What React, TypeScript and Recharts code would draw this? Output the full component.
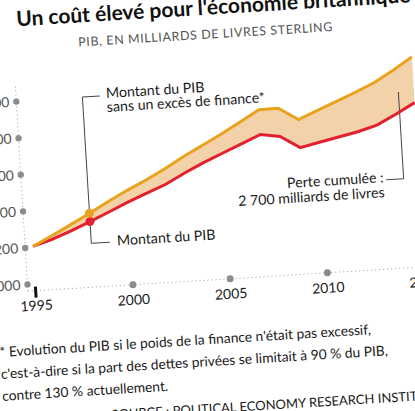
import {
  ComposedChart,
  Area,
  Line,
  XAxis,
  YAxis,
  ReferenceLine,
} from "recharts";

// PIB britannique, milliards de livres
const years = [
  1995, 1996, 1997, 1998, 1999, 2000, 2001, 2002, 2003, 2004, 2005, 2006,
  2007, 2008, 2009, 2010, 2011, 2012, 2013, 2014, 2015,
];
const gdpActual = [
  1206, 1238, 1278, 1322, 1368, 1415, 1458, 1500, 1555, 1605, 1650, 1695,
  1740, 1722, 1655, 1678, 1700, 1722, 1752, 1805, 1862,
];
const gdpNoExcessFinance = [
  1206, 1258, 1312, 1368, 1425, 1480, 1530, 1585, 1645, 1700, 1755, 1815,
  1875, 1877, 1808, 1852, 1895, 1938, 1985, 2045, 2112,
];
const xTicks = [1995, 2000, 2005, 2010, 2015];
const yTicks = [1000, 1200, 1400, 1600, 1800, 2000];
const highlightYear = 1998;

const data = years.map((year, i) => ({
  year,
  actual: gdpActual[i],
  potential: gdpNoExcessFinance[i],
  loss: [gdpActual[i], gdpNoExcessFinance[i]],
}));

const ORANGE = "#e9a21c";
const RED = "#e2202f";
const BAND = "#f3d2a9";
const FONT = "Lato, 'Open Sans', sans-serif";

const YTick = (props: any) => {
  const { x, y, payload } = props;
  return (
    <g>
      <circle cx={x} cy={y} r={3.2} fill="#8c8c8c" />
      <text
        x={x - 7}
        y={y}
        dy={5}
        textAnchor="end"
        fontSize={14}
        fontFamily={FONT}
        fill="#555"
      >
        {payload.value}
      </text>
    </g>
  );
};

const XTick = (props: any) => {
  const { x, y, payload } = props;
  const first = payload.value === xTicks[0];
  return (
    <g>
      {first ? (
        <rect x={x - 1.5} y={y - 4} width={3} height={11} fill="#111" />
      ) : (
        <circle cx={x} cy={y} r={3.5} fill="#8c8c8c" />
      )}
      <text
        x={x}
        y={y}
        dy={20}
        textAnchor="middle"
        fontSize={14}
        fontFamily={FONT}
        fill="#1a1a1a"
      >
        {payload.value}
      </text>
    </g>
  );
};

const marker = (color: string) => (p: any) =>
  p.payload.year === highlightYear ? (
    <circle key={p.key} cx={p.cx} cy={p.cy} r={4.5} fill={color} />
  ) : (
    <g key={p.key} />
  );

const text = (extra: any) => ({
  position: "absolute" as const,
  fontFamily: FONT,
  color: "#1a1a1a",
  whiteSpace: "nowrap" as const,
  ...extra,
});

export default function App() {
  return (
    <div
      style={{
        position: "fixed",
        left: 0,
        top: 0,
        width: 415,
        height: 411,
        overflow: "hidden",
        background: "#fff",
      }}
    >
      <div
        style={{
          position: "absolute",
          left: 0,
          top: 0,
          width: 415,
          height: 411,
          transform: "rotate(-3.5deg)",
          transformOrigin: "207.5px 205.5px",
        }}
      >
        <div
          style={text({
            left: 28,
            top: -4,
            fontSize: 21,
            lineHeight: "21px",
            fontWeight: 700,
            color: "#111",
          })}
        >
          Un coût élevé pour l'économie britannique
        </div>
        <div
          style={text({
            left: 0,
            width: 432,
            textAlign: "center",
            top: 27,
            fontSize: 12.5,
            lineHeight: "16px",
            letterSpacing: 0.6,
            color: "#555",
          })}
        >
          PIB, EN MILLIARDS DE LIVRES STERLING
        </div>

        <div style={{ position: "absolute", left: -40, top: 39.5 }}>
          <ComposedChart
            width={490}
            height={270}
            data={data}
            margin={{ top: 13.5, right: 10, bottom: 0, left: 0 }}
          >
            <XAxis
              dataKey="year"
              type="number"
              domain={[1994.6, 2016]}
              ticks={xTicks}
              interval={0}
              height={30}
              tickSize={0}
              tickMargin={0}
              tickLine={false}
              axisLine={{ stroke: "#9a9a9a", strokeDasharray: "1 3" }}
              tick={<XTick />}
            />
            <YAxis
              type="number"
              domain={[964, 2200]}
              ticks={yTicks}
              interval={0}
              width={63}
              tickSize={0}
              tickMargin={0}
              tickLine={false}
              axisLine={false}
              tick={<YTick />}
            />
            <ReferenceLine
              segment={[
                { x: 1994.6, y: 964 },
                { x: 1994.6, y: 2100 },
              ]}
              stroke="#9a9a9a"
              strokeDasharray="1 3"
            />
            <ReferenceLine
              segment={[
                { x: highlightYear, y: 2003 },
                { x: highlightYear, y: 1203 },
              ]}
              stroke="#444"
            />
            <ReferenceLine
              segment={[
                { x: highlightYear, y: 2003 },
                { x: 1998.9, y: 2003 },
              ]}
              stroke="#444"
            />
            <ReferenceLine
              segment={[
                { x: highlightYear, y: 1203 },
                { x: 1998.95, y: 1203 },
              ]}
              stroke="#444"
            />
            <Area
              type="linear"
              dataKey="loss"
              stroke="none"
              fill={BAND}
              fillOpacity={1}
              isAnimationActive={false}
            />
            <ReferenceLine
              segment={[
                { x: 2014.2, y: 1925 },
                { x: 2014.2, y: 1451 },
              ]}
              stroke="#444"
            />
            <ReferenceLine
              segment={[
                { x: 2014.2, y: 1451 },
                { x: 2013.3, y: 1451 },
              ]}
              stroke="#444"
            />
            <Line
              type="linear"
              dataKey="actual"
              stroke={RED}
              strokeWidth={3}
              dot={marker(RED)}
              activeDot={false}
              isAnimationActive={false}
            />
            <Line
              type="linear"
              dataKey="potential"
              stroke={ORANGE}
              strokeWidth={3}
              dot={marker(ORANGE)}
              activeDot={false}
              isAnimationActive={false}
            />
          </ComposedChart>
        </div>

        <div
          style={text({
            left: 113,
            top: 80,
            fontSize: 14.2,
            lineHeight: "14px",
          })}
        >
          Montant du PIB
          <br />
          sans un excès de finance*
        </div>
        <div
          style={text({ left: 115, top: 226.5, fontSize: 14.2, lineHeight: "15px" })}
        >
          Montant du PIB
        </div>
        <div
          style={text({
            left: 185,
            width: 200,
            textAlign: "right",
            top: 179.5,
            fontSize: 14.2,
            lineHeight: "15px",
          })}
        >
          Perte cumulée :
          <br />2 700 milliards de livres
        </div>

        <div
          style={text({
            left: -9,
            top: 327.8,
            fontSize: 13.8,
            lineHeight: "22px",
          })}
        >
          * Evolution du PIB si le poids de la finance n'était pas excessif,
          <br />
          c'est-à-dire si la part des dettes privées se limitait à 90 % du PIB,
          <br />
          contre 130 % actuellement.
        </div>
        <div
          style={text({
            left: 30,
            width: 400,
            textAlign: "right",
            top: 399.5,
            fontSize: 13,
            lineHeight: "16px",
          })}
        >
          SOURCE : POLITICAL ECONOMY RESEARCH INSTITUTE
        </div>
      </div>
    </div>
  );
}
